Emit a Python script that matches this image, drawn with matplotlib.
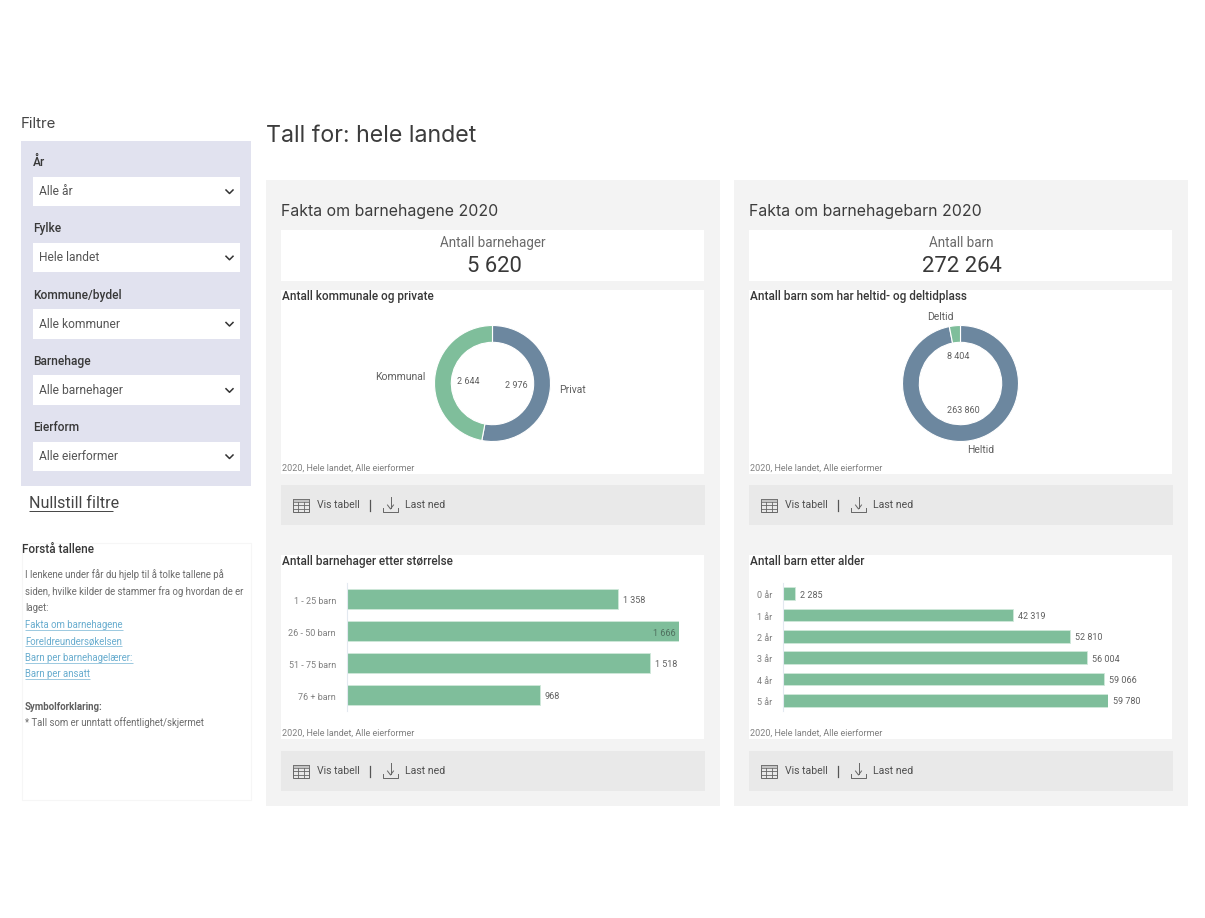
import matplotlib
matplotlib.use('Agg')
import matplotlib.pyplot as plt
from matplotlib.patches import Rectangle
from matplotlib.transforms import ScaledTranslation

W, H = 1205, 918

# data
owner_labels = ['Privat', 'Kommunal']
owner_values = [2976, 2644]
place_labels = ['Heltid', 'Deltid']
place_values = [263860, 8404]
size_labels = ['1 - 25 barn', '26 - 50 barn', '51 - 75 barn', '76 + barn']
size_values = [1358, 1666, 1518, 968]
age_labels = ['0 år', '1 år', '2 år', '3 år', '4 år', '5 år']
age_values = [2285, 42319, 52810, 56004, 59066, 59780]
filter_labels = ['År', 'Fylke', 'Kommune/bydel', 'Barnehage', 'Eierform']
filter_values = ['Alle år', 'Hele landet', 'Alle kommuner', 'Alle barnehager', 'Alle eierformer']
help_lines = ['I lenkene under får du hjelp til å tolke tallene på',
              'siden, hvilke kilder de stammer fra og hvordan de er',
              'laget:']
help_links = ['Fakta om barnehagene', 'Foreldreundersøkelsen', 'Barn per barnehagelærer:', 'Barn per ansatt']
caption = '2020, Hele landet, Alle eierformer'

GREEN = '#7fbe9b'
BLUE = '#6c879f'
HEAD = 'Inter'
plt.rcParams['font.family'] = ['Roboto', 'DejaVu Sans']


def fmt(v):
    return f'{v:,}'.replace(',', ' ')


def px(size):
    return size * 0.72


def make_axes(left, top, right, bottom):
    ax = fig.add_axes([left / W, 1 - bottom / H, (right - left) / W, (bottom - top) / H])
    ax.patch.set_visible(False)
    return ax


fig = plt.figure(figsize=(W / 100, H / 100), dpi=100, facecolor='white')
page = fig.add_axes([0, 0, 1, 1])
page.set_xlim(0, W)
page.set_ylim(H, 0)
page.axis('off')


def box(x0, y0, x1, y1, color, edge='none'):
    page.add_patch(Rectangle((x0, y0), x1 - x0, y1 - y0, facecolor=color, edgecolor=edge, lw=0.8))


def label(x, y, s, size, color='#444444', weight='normal', ha='left', family=None):
    kw = {'family': family} if family else {}
    return page.text(x, y + 1, s, fontsize=px(size), color=color, weight=weight, ha=ha, va='center', **kw)


def underline(x0, x1, y, color, lw=0.7):
    page.plot([x0, x1], [y, y], color=color, lw=lw, solid_capstyle='butt')


def toolbar(x, y):
    box(x, y, x + 424, y + 40, '#e9e9e9')
    ix, iy = x + 12, y + 13.5
    c = '#666666'
    # table icon
    page.add_patch(Rectangle((ix, iy), 16, 13.5, facecolor='none', edgecolor=c, lw=0.7))
    page.add_patch(Rectangle((ix, iy), 16, 3.2, facecolor='#c4c4c4', edgecolor=c, lw=0.5))
    for dy in (6.5, 10):
        page.plot([ix, ix + 16], [iy + dy, iy + dy], color=c, lw=0.6)
    for dx in (5.3, 10.6):
        page.plot([ix + dx, ix + dx], [iy + 3.2, iy + 13.5], color=c, lw=0.6)
    label(x + 36, y + 19.5, 'Vis tabell', 10.5, '#505050')
    page.plot([x + 89, x + 89], [y + 15, y + 26], color='#555555', lw=0.9)
    # download icon
    dx0 = x + 102
    page.plot([dx0, dx0, dx0 + 15, dx0 + 15], [y + 23, y + 27, y + 27, y + 23], color=c, lw=0.7)
    page.plot([dx0 + 7.5, dx0 + 7.5], [y + 12, y + 23], color=c, lw=0.7)
    page.plot([dx0 + 4.5, dx0 + 7.5, dx0 + 10.5], [y + 20, y + 24, y + 20], color=c, lw=0.7)
    label(x + 124, y + 19.5, 'Last ned', 10.5, '#505050')


def donut(cx, cy, values, labels, pctdist):
    ax = make_axes(cx - 58, cy - 58, cx + 58, cy + 58)
    it = iter(values)
    wedges, outer, inner = ax.pie(values, labels=labels, colors=[BLUE, GREEN], startangle=90, counterclock=False,
                                  radius=1, labeldistance=1.16, pctdistance=pctdist,
                                  autopct=lambda p: fmt(next(it)),
                                  wedgeprops={'width': 0.29, 'edgecolor': 'white', 'linewidth': 0.8})
    ax.set_xlim(-1, 1)
    ax.set_ylim(-1, 1)
    for w in wedges:
        w.set_clip_on(False)
    for t in outer:
        t.set_fontsize(px(10.4))
        t.set_color('#606060')
    for t in inner:
        t.set_fontsize(px(9))
        t.set_color('#606060')


def hbars(left, right, cats, values, xmax, height, inside=None, tick_pad=8, val_size=9):
    ax = make_axes(left, 583, right, 711)
    ax.barh(cats, values, height=height, color=GREEN, edgecolor='#cfe8da', linewidth=0.6)
    ax.set_xlim(0, xmax)
    ax.set_ylim(len(cats) - 0.5, -0.5)
    for s in ('top', 'right', 'bottom'):
        ax.spines[s].set_visible(False)
    ax.spines['left'].set_color('#e3e9f0')
    ax.spines['left'].set_linewidth(0.8)
    ax.set_xticks([])
    ax.tick_params(axis='y', length=0, pad=tick_pad, labelsize=px(9), labelcolor='#808080')
    shift = ScaledTranslation(0, -1 / 100, fig.dpi_scale_trans)
    for t in ax.get_yticklabels():
        t.set_transform(t.get_transform() + shift)
    for i, v in enumerate(values):
        if v == inside:
            ax.annotate(fmt(v), (v, i), xytext=(-3, -1.5), textcoords='offset points', ha='right', va='center',
                        fontsize=px(val_size), color='#4f6f5e', annotation_clip=False)
        else:
            ax.annotate(fmt(v), (v, i), xytext=(3.5, -1), textcoords='offset points', ha='left', va='center',
                        fontsize=px(val_size), color='#606060', annotation_clip=False)


# left column
label(21, 123, 'Filtre', 15, '#444444', family=HEAD)
box(21, 141, 251, 486, '#e1e2ef')
for i, (name, value) in enumerate(zip(filter_labels, filter_values)):
    y = 176.5 + i * 66.25
    label(33, y - 15, name, 12, '#383838', weight=500)
    box(33, y, 240, y + 29.5, 'white')
    label(39, y + 14, value, 12, '#555555')
    page.plot([226, 229.5, 233], [y + 13.5, y + 17, y + 13.5], color='#333333', lw=1.1)
label(29, 502.5, 'Nullstill filtre', 16, '#444444')
underline(29, 113, 510.5, '#444444')

box(21.5, 543, 251, 800, 'white', edge='#f6f6f6')
label(22, 548.5, 'Forstå tallene', 11.7, '#383838', weight=500)
for i, s in enumerate(help_lines):
    label(25, 574 + i * 16.5, s, 9.7, '#6c6c6c')
link_ends = [123, 122, 133, 90]
for i, s in enumerate(help_links):
    y = 624 + i * 16.4
    label(25, y, s, 9.7, '#69adcf')
    underline(25, link_ends[i], y + 6, '#8cc0db', 0.6)
label(25, 705.5, 'Symbolforklaring:', 9.7, '#606060', weight='bold')
label(25, 722, '* Tall som er unntatt offentlighet/skjermet', 9.7, '#6c6c6c')

label(266, 135, 'Tall for: hele landet', 23.2, '#3c3c3c', family=HEAD)

# cards
cards = [
    (266, 'Fakta om barnehagene 2020', 'Antall barnehager', fmt(sum(owner_values)),
     'Antall kommunale og private', 'Antall barnehager etter størrelse'),
    (734, 'Fakta om barnehagebarn 2020', 'Antall barn', fmt(sum(place_values)),
     'Antall barn som har heltid- og deltidplass', 'Antall barn etter alder'),
]
for x, title, stat_name, stat_value, title_a, title_b in cards:
    box(x, 180, x + 453.5, 806, '#f3f3f3')
    label(x + 15, 210.5, title, 15.9, '#3c3c3c', family=HEAD)
    box(x + 15, 230, x + 438, 281, 'white')
    label(x + 227, 242, stat_name, 13.5, '#6a6a6a', ha='center')
    label(x + 228, 265, stat_value, 22, '#383838', ha='center')
    box(x + 15, 290, x + 438, 474, 'white')
    label(x + 16, 295.5, title_a, 11.7, '#383838', weight=500)
    label(x + 16, 467.5, caption, 9, '#808080')
    toolbar(x + 15, 485)
    box(x + 15, 555, x + 438, 739, 'white')
    label(x + 16, 560.5, title_b, 11.7, '#383838', weight=500)
    label(x + 16, 732.5, caption, 9, '#808080')
    toolbar(x + 15, 751)

# charts
donut(492.5, 383.5, owner_values, owner_labels, 0.42)
donut(960.5, 383.5, place_values, place_labels, 0.46)
hbars(347, 679.3, size_labels, size_values, max(size_values), 0.6, inside=max(size_values), tick_pad=8)
hbars(782.7, 1108, age_labels, age_values, max(age_values), 0.6, tick_pad=7.5)

fig.savefig('out.png', dpi=100)
